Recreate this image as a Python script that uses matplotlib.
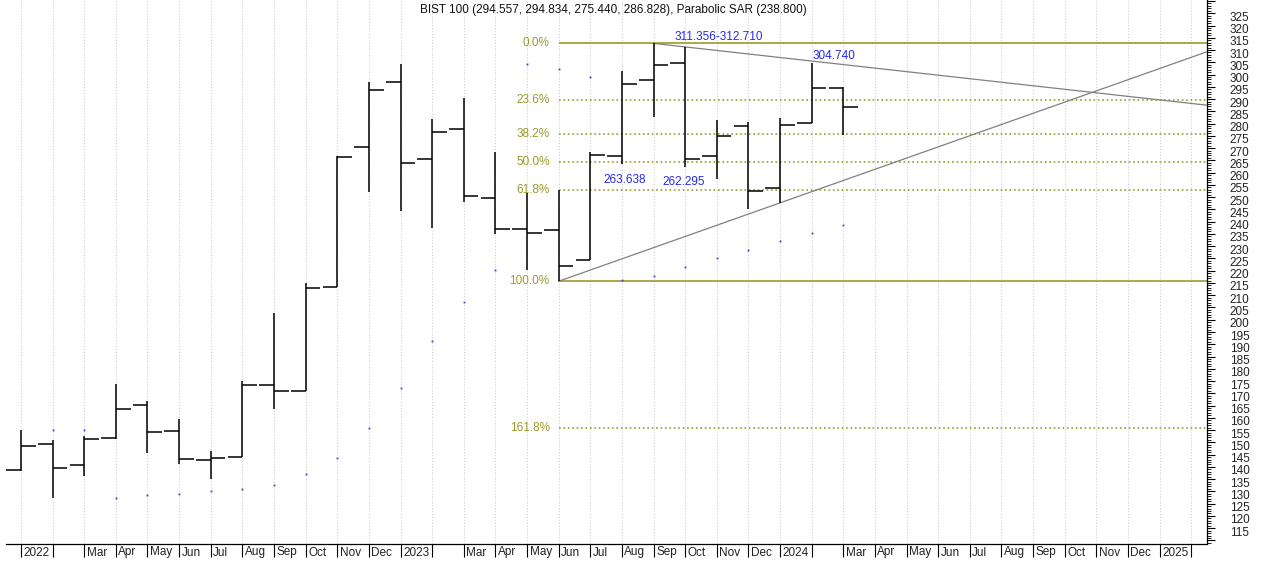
import numpy as np
import matplotlib.pyplot as plt
import matplotlib.transforms as mtransforms

plt.rcParams['font.family'] = ['Liberation Sans', 'DejaVu Sans']

# monthly bars, Jan 2022 .. Mar 2024 ; axis runs to Feb 2025
months = ['2022', '', 'Mar', 'Apr', 'May', 'Jun', 'Jul', 'Aug', 'Sep', 'Oct', 'Nov', 'Dec',
          '2023', '', 'Mar', 'Apr', 'May', 'Jun', 'Jul', 'Aug', 'Sep', 'Oct', 'Nov', 'Dec',
          '2024', '', 'Mar', 'Apr', 'May', 'Jun', 'Jul', 'Aug', 'Sep', 'Oct', 'Nov', 'Dec',
          '2025', '']

opens = [138.55, 149.44, 140.59, 151.61, 165.08, 154.59, 142.75, 143.98, 173.36, 171.08,
         213.36, 270.38, 296.79, 265.36, 277.61, 249.85, 237.20, 236.51, 224.38, 266.59,
         297.85, 304.79, 266.71, 278.83, 253.65, 280.18, 294.557]
highs = [155.16, 151.08, 152.55, 173.93, 166.83, 159.36, 146.42, 174.87, 202.91, 215.16,
         266.83, 296.79, 304.26, 281.81, 290.26, 268.47, 251.73, 252.95, 268.22, 301.40,
         312.710, 311.356, 281.40, 280.47, 282.10, 304.740, 294.834]
lows = [138.14, 127.24, 136.10, 151.49, 145.61, 141.12, 135.00, 143.98, 163.73, 171.08,
        213.36, 252.14, 244.26, 237.44, 248.06, 235.16, 220.47, 215.70, 224.38, 263.638,
        282.75, 262.295, 257.44, 245.08, 247.65, 280.18, 275.440]
closes = [148.34, 139.49, 151.32, 163.44, 154.18, 143.16, 143.57, 173.36, 170.79, 212.95,
          266.30, 293.77, 263.98, 276.63, 250.67, 237.04, 235.40, 222.10, 267.00, 296.10,
          303.85, 265.36, 274.75, 252.71, 279.49, 294.34, 286.828]
sar = [np.nan, 155.16, 155.16, 127.24, 128.34, 129.04, 130.10, 130.79, 132.71, 137.20,
       143.44, 155.69, 172.30, 191.20, 207.12, 220.47, 304.26, 302.34, 299.08, 216.38,
       218.02, 221.53, 225.20, 228.63, 232.30, 235.40, 238.800]

fib_pcts = [0.0, 23.6, 38.2, 50.0, 61.8, 100.0, 161.8]
fib_start = 17      # Jun 2023 low
fib_top = 20        # Sep 2023 high

# trend lines as (bar index, value) end points
upper_trend = [(20, 312.71), (37.5, 287.5)]
lower_trend = [(17, 215.70), (37.5, 309.3)]

x = np.arange(len(opens))
xmin, xmax = -0.474, 37.5
ymin, ymax = 108.75, 330.4

fig = plt.figure(figsize=(12.64, 5.67), dpi=100)
ax = fig.add_axes([6 / 1264, 23.5 / 567, (1207 - 6) / 1264, 543.5 / 567])
ax.set_xlim(xmin, xmax)
ax.set_ylim(ymin, ymax)

# grid
ax.set_xticks(np.arange(len(months)))
ax.set_xticklabels([])
ax.grid(axis='x', color='#cfcfcf', linestyle=':', linewidth=0.8)
ax.set_axisbelow(True)
ax.tick_params(axis='x', direction='out', length=9.5, width=0.8, color='black')

# fibonacci levels
hi = highs[fib_top]
lo = lows[fib_start]
olive = '#9a9a2e'
for p in fib_pcts:
    lev = hi - p / 100 * (hi - lo)
    ls = '-' if p in (0.0, 100.0) else ':'
    ax.hlines(lev, fib_start, xmax, colors=olive, linestyles=ls, linewidth=1.2, zorder=2)
    ax.annotate(f'{p:.1f}%', (fib_start, lev), xytext=(-6.5, 0), textcoords='offset points',
                ha='right', va='center', fontsize=8.5, color=olive)

# trend lines
for (x0, y0), (x1, y1) in (upper_trend, lower_trend):
    ax.plot([x0, x1], [y0, y1], color='#808080', linewidth=0.9, zorder=3)

# OHLC bars
w = 0.465
ax.vlines(x, lows, highs, colors='black', linewidth=1.1, zorder=4)
ax.hlines(opens, x - w, x, colors='black', linewidth=1.1, zorder=4)
ax.hlines(closes, x, x + w, colors='black', linewidth=1.1, zorder=4)

# parabolic SAR
ax.plot(x, sar, linestyle='none', marker='s', markersize=1.3, color='#3c3cd0',
        markeredgewidth=0, zorder=5)

# price labels
blue = '#2828ee'
ax.annotate(f'{highs[21]:.3f}-{highs[20]:.3f}', (20, highs[20]), xytext=(47, 4.3),
            textcoords='offset points', ha='center', va='center', fontsize=8.5, color=blue)
ax.annotate(f'{highs[25]:.3f}', (25, highs[25]), xytext=(16, 5),
            textcoords='offset points', ha='center', va='center', fontsize=8.5, color=blue)
ax.annotate(f'{lows[19]:.3f}', (19, lows[19]), xytext=(1.7, -12),
            textcoords='offset points', ha='center', va='center', fontsize=8.5, color=blue)
ax.annotate(f'{lows[21]:.3f}', (21, lows[21]), xytext=(-0.7, -10.5),
            textcoords='offset points', ha='center', va='center', fontsize=8.5, color=blue)

# month labels to the right of each tick
trans = mtransforms.blended_transform_factory(ax.transData, ax.transAxes)
trans = trans + mtransforms.ScaledTranslation(2.5 / 100, -9 / 100, fig.dpi_scale_trans)
for i, m in enumerate(months):
    if m:
        ax.text(i, 0, m, transform=trans, ha='left', va='center', fontsize=8.5, color='#222222')

# right price axis
ax.yaxis.tick_right()
ax.set_yticks(np.arange(110, 335, 5))
ax.set_yticks(np.arange(109, 331, 1), minor=True)
ax.set_yticklabels(['' if v in (110, 330) else str(v) for v in range(110, 335, 5)])
ax.tick_params(axis='y', which='major', length=5.5, width=0.8, pad=11, labelsize=8.5,
               labelcolor='#222222')
ax.tick_params(axis='y', which='minor', length=3, width=0.6)
off = mtransforms.ScaledTranslation(0, -3 / 100, fig.dpi_scale_trans)
for lab in ax.get_yticklabels():
    lab.set_transform(lab.get_transform() + off)

for s in ('top', 'left'):
    ax.spines[s].set_visible(False)
ax.spines['right'].set_linewidth(0.9)
ax.spines['bottom'].set_linewidth(0.9)

title = (f'BIST 100 ({opens[-1]:.3f}, {highs[-1]:.3f}, {lows[-1]:.3f}, {closes[-1]:.3f}), '
         f'Parabolic SAR ({sar[-1]:.3f})')
fig.text(420 / 1264, 1 - 10 / 567, title, ha='left', va='center', fontsize=8.5, color='#111111')

fig.savefig('out.png', dpi=100)
